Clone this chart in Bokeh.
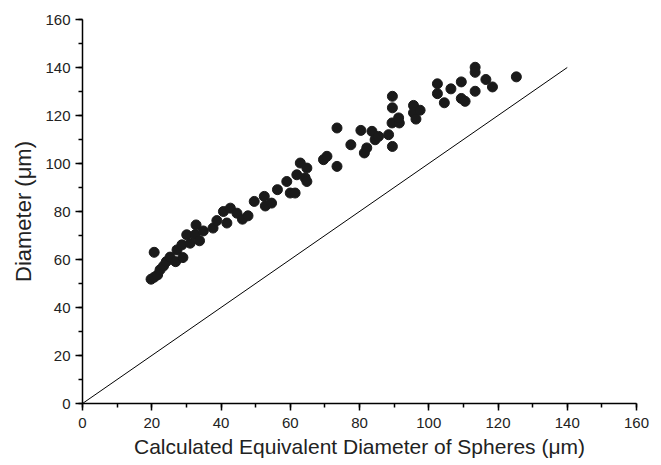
from bokeh.plotting import figure
from bokeh.models import Range1d, SingleIntervalTicker, ColumnDataSource
from bokeh.embed import file_html
from bokeh.resources import INLINE

eq_diameter = [19.8, 20.7, 21.7, 20.7, 22.4, 23.4, 24.2, 25.3, 26.9, 27.3, 29.0, 28.7, 30.1, 31.1,
               32.8, 32.5, 33.8, 34.9, 37.7, 38.8, 40.7, 41.7, 42.7, 44.6, 46.2, 47.8, 49.6, 52.5,
               52.8, 54.6, 56.3, 59.0, 60.0, 61.4, 61.9, 62.9, 64.8, 64.3, 64.8, 69.6, 70.6, 73.5,
               73.5, 77.5, 80.4, 81.4, 82.1, 83.6, 84.5, 85.5, 88.4, 89.5, 89.5, 89.5, 89.4, 91.5,
               91.3, 95.6, 95.6, 96.3, 97.5, 102.5, 102.5, 104.5, 106.4, 109.4, 109.4, 110.5, 113.4,
               113.4, 113.4, 116.5, 118.4, 125.3]
diameter = [51.8, 52.6, 53.6, 63.0, 55.7, 57.3, 59.1, 61.0, 59.1, 64.0, 60.8, 66.1, 70.3, 66.8,
            74.4, 70.3, 67.8, 71.9, 73.1, 76.2, 80.0, 75.2, 81.4, 79.3, 76.8, 78.2, 84.2, 86.3,
            82.3, 83.5, 89.1, 92.5, 87.7, 87.7, 95.3, 100.2, 98.1, 94.0, 92.5, 101.6, 103.0, 114.8,
            98.8, 107.8, 113.8, 104.4, 106.5, 113.4, 109.9, 111.3, 112.0, 128.0, 123.2, 107.1, 116.9, 116.9,
            119.0, 124.2, 121.1, 118.5, 122.2, 133.2, 129.1, 125.3, 131.1, 134.0, 127.1, 125.9, 140.1,
            138.0, 130.1, 135.0, 131.9, 136.1]
line_x = [0, 140]
line_y = [0, 140]

p = figure(width=661, height=465, output_backend="svg", toolbar_location=None,
           x_range=Range1d(0, 160), y_range=Range1d(0, 160),
           min_border_left=82, min_border_right=25, min_border_top=19, min_border_bottom=62)
p.outline_line_color = None
p.xgrid.grid_line_color = None
p.ygrid.grid_line_color = None
p.background_fill_color = "white"
p.border_fill_color = "white"

p.line(line_x, line_y, line_color="black", line_width=1)
src = ColumnDataSource(dict(x=eq_diameter, y=diameter))
p.scatter("x", "y", source=src, size=10, fill_color="#1a1a1a", line_color="#1a1a1a")

for ax, lab in ((p.xaxis[0], "Calculated Equivalent Diameter of Spheres (\u03bcm)"),
                (p.yaxis[0], "Diameter (\u03bcm)")):
    ax.ticker = SingleIntervalTicker(interval=20, num_minor_ticks=2)
    ax.axis_label = lab
    ax.axis_label_text_font = "Liberation Sans"
    ax.axis_label_text_font_style = "normal"
    ax.axis_label_text_color = "#222222"
    ax.major_label_text_font = "Liberation Sans"
    ax.major_label_text_font_size = "15px"
    ax.major_label_text_color = "#222222"
    ax.axis_line_color = "black"
    ax.axis_line_width = 1.5
    ax.major_tick_in = 0
    ax.major_tick_out = 7
    ax.minor_tick_in = 0
    ax.minor_tick_out = 4
    ax.major_tick_line_width = 1.5
    ax.minor_tick_line_width = 1.5
    ax.major_tick_line_color = "black"
    ax.minor_tick_line_color = "black"

p.xaxis.axis_label_text_font_size = "21px"
p.yaxis.axis_label_text_font_size = "22px"
p.xaxis.major_label_standoff = 7
p.yaxis.major_label_standoff = 5
p.xaxis.axis_label_standoff = 4
p.yaxis.axis_label_standoff = 6

open("out.html", "w").write(file_html(p, INLINE))
